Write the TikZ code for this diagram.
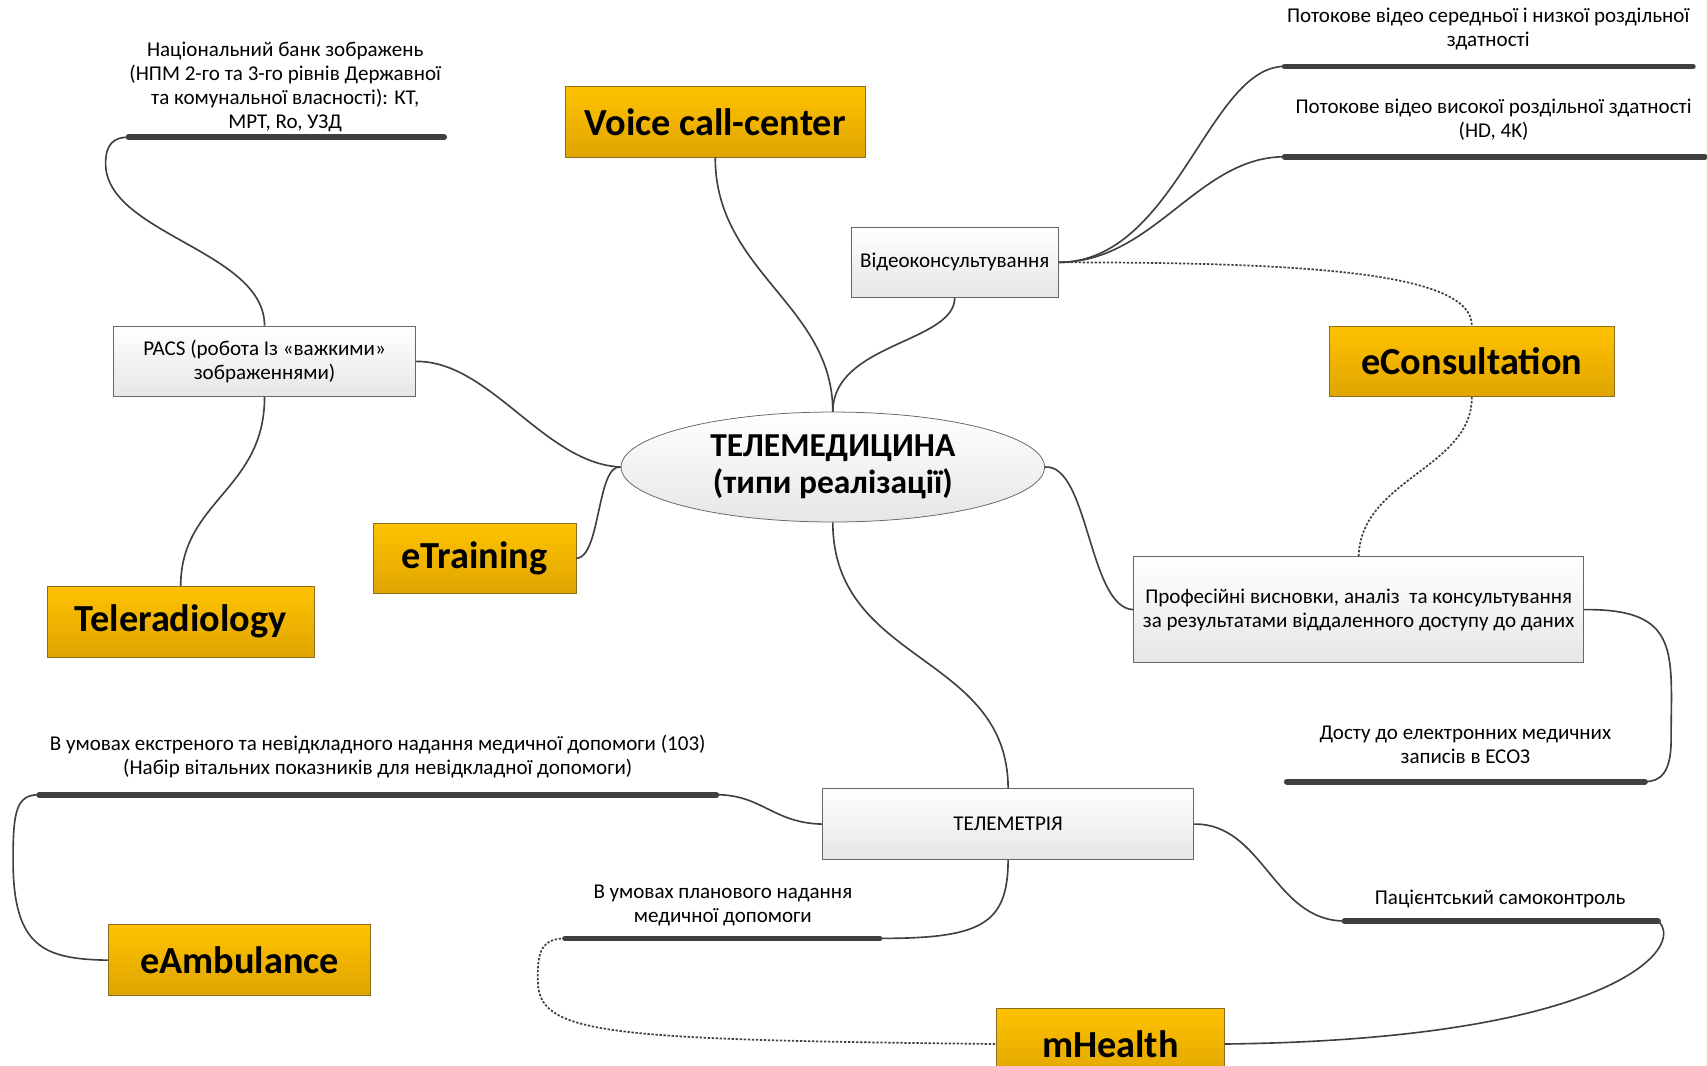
\documentclass[tikz,border=0pt]{standalone}
\usepackage{fontspec}
\setmainfont{Carlito}
\usepackage{tikz}
\usetikzlibrary{shapes.geometric}
\definecolor{mmgold}{HTML}{FFC200}
\definecolor{mmgolddark}{HTML}{DFA500}
\definecolor{mmedge}{HTML}{8C6D1F}
\definecolor{mmline}{HTML}{404040}
\definecolor{mmgrey}{HTML}{E6E6E6}
\tikzset{
  mainbox/.style={draw=mmedge, top color=mmgold, bottom color=mmgolddark,
    font=\fontsize{20}{23}\selectfont\bfseries, minimum height=13mm, inner sep=0pt},
  subbox/.style={draw=gray!80!black, top color=white, bottom color=mmgrey,
    font=\fontsize{11}{12.5}\selectfont, align=center, minimum height=13mm, inner sep=0pt},
  leaf/.style={font=\fontsize{11}{12.5}\selectfont, align=center, inner sep=0pt},
  bar/.style={mmline, line width=3pt, line cap=round},
  branch/.style={mmline, line width=0.85pt},
  dotbranch/.style={mmline, line width=0.9pt, dash pattern=on 1.2pt off 0.9pt},
}

\begin{document}
\begin{tikzpicture}[x=0.2mm,y=-0.2mm]
  \clip (0,0) rectangle (1568,979);
  \fill[white] (0,0) rectangle (1568,979);
  % centre
  \node[ellipse, draw=gray!80!black, top color=white, bottom color=mmgrey,
    minimum width=77.8mm, minimum height=20.2mm, inner sep=0pt,
    font=\fontsize{17.5}{19.5}\selectfont\bfseries, align=center] (tele) at (765,429)
    {ТЕЛЕМЕДИЦИНА\\(типи реалізації)};
  % types
  \node[mainbox, minimum width=55.2mm] (voice) at (657,112) {Voice call-center};
  \node[mainbox, minimum width=52.4mm] (econs) at (1352,332) {eConsultation};
  \node[mainbox, minimum width=37.2mm] (etrain) at (436,513) {eTraining};
  \node[mainbox, minimum width=49mm] (telerad) at (166,571) {Teleradiology};
  \node[mainbox, minimum width=48.2mm] (eamb) at (220,882) {eAmbulance};
  \node[mainbox, minimum width=41.8mm] (mhealth) at (1020,959) {mHealth};
  % grey boxes
  \node[subbox, minimum width=38mm, minimum height=12.8mm] (video) at (877,241) {Відеоконсультування};
  \node[subbox, minimum width=55.4mm] (pacs) at (243,332) {PACS (робота Із «важкими»\\зображеннями)};
  \node[subbox, minimum width=82.6mm, minimum height=19.4mm] (prof) at (1248,560)
    {Професійні висновки, аналіз~ та консультування\\за результатами віддаленного доступу до даних};
  \node[subbox, minimum width=68.2mm] (telem) at (926,757) {ТЕЛЕМЕТРІЯ};
  % labels over bars
  \node[leaf] (natbank) at (262,80) {Національний банк зображень\\(НПМ 2-го та 3-го рівнів Державної\\та комунальної власності): КТ,\\МРТ, Ro, УЗД};
  \coordinate (natL) at (118,126); \coordinate (natR) at (408,126);
  \node[leaf] (lowres) at (1367,27) {Потокове відео середньої і низкої роздільної\\здатності};
  \coordinate (lowL) at (1180,61); \coordinate (lowR) at (1555,61);
  \node[leaf] (hires) at (1372,110) {Потокове відео високої роздільної здатності\\(HD, 4K)};
  \coordinate (hiL) at (1180,144); \coordinate (hiR) at (1566,144);
  \node[leaf] (ehr) at (1346,684) {Досту до електронних медичних\\записів в ЕСОЗ};
  \coordinate (ehrL) at (1182,718); \coordinate (ehrR) at (1511,718);
  \node[leaf] (urgent) at (347,695) {В умовах екстреного та невідкладного надання медичної допомоги (103)\\(Набір вітальних показників для невідкладної допомоги)};
  \coordinate (urgL) at (36,730); \coordinate (urgR) at (658,730);
  \node[leaf] (planned) at (664,832) {В умовах планового надання\\медичної допомоги};
  \coordinate (planL) at (519,862); \coordinate (planR) at (808,862);
  \node[leaf] (selfctl) at (1378,826) {Пацієнтський самоконтроль};
  \coordinate (selfL) at (1235,846); \coordinate (selfR) at (1523,846);
  \foreach \a/\b in {natL/natR, lowL/lowR, hiL/hiR, ehrL/ehrR, urgL/urgR, planL/planR, selfL/selfR}
    \draw[bar] (\a) -- (\b);
  % branches
  \draw[branch] (voice.south) .. controls (657,250) and (765,280) .. (tele.north);
  \draw[branch] (video.south) .. controls (877,315) and (765,315) .. (tele.north);
  \draw[branch] (pacs.east) .. controls (450,331) and (500,426) .. (tele.west);
  \draw[branch] (etrain.east) .. controls (552,512) and (548,426) .. (tele.west);
  \draw[branch] (tele.east) .. controls (1000,426) and (1000,559) .. (prof.west);
  \draw[branch] (tele.south) .. controls (765,610) and (926,600) .. (telem.north);
  \draw[branch] (pacs.north) .. controls (243,230) and (97,215) .. (97,150)
    .. controls (97,132) and (105,126) .. (natL);
  \draw[branch] (pacs.south) .. controls (243,450) and (166,460) .. (telerad.north);
  \draw[branch] (video.east) .. controls (1080,241) and (1110,61) .. (lowL);
  \draw[branch] (video.east) .. controls (1060,241) and (1100,144) .. (hiL);
  \draw[dotbranch] (video.east) .. controls (1200,241) and (1352,250) .. (econs.north);
  \draw[dotbranch] (econs.south) .. controls (1352,430) and (1250,440) .. (prof.north);
  \draw[branch] (prof.east) .. controls (1545,559) and (1535,600) .. (1535,680)
    .. controls (1535,710) and (1525,718) .. (ehrR);
  \draw[branch] (telem.west) .. controls (710,756) and (700,730) .. (urgR);
  \draw[branch] (urgL) .. controls (15,730) and (12,745) .. (12,790)
    .. controls (12,870) and (40,881) .. (eamb.west);
  \draw[branch] (telem.south) .. controls (926,850) and (900,862) .. (planR);
  \draw[dotbranch] (planL) .. controls (494,862) and (494,880) .. (494,900)
    .. controls (494,950) and (550,955) .. (mhealth.west);
  \draw[branch] (telem.east) .. controls (1160,756) and (1170,846) .. (selfL);
  \draw[branch] (selfR) .. controls (1550,870) and (1480,955) .. (mhealth.east);
\end{tikzpicture}
\end{document}
